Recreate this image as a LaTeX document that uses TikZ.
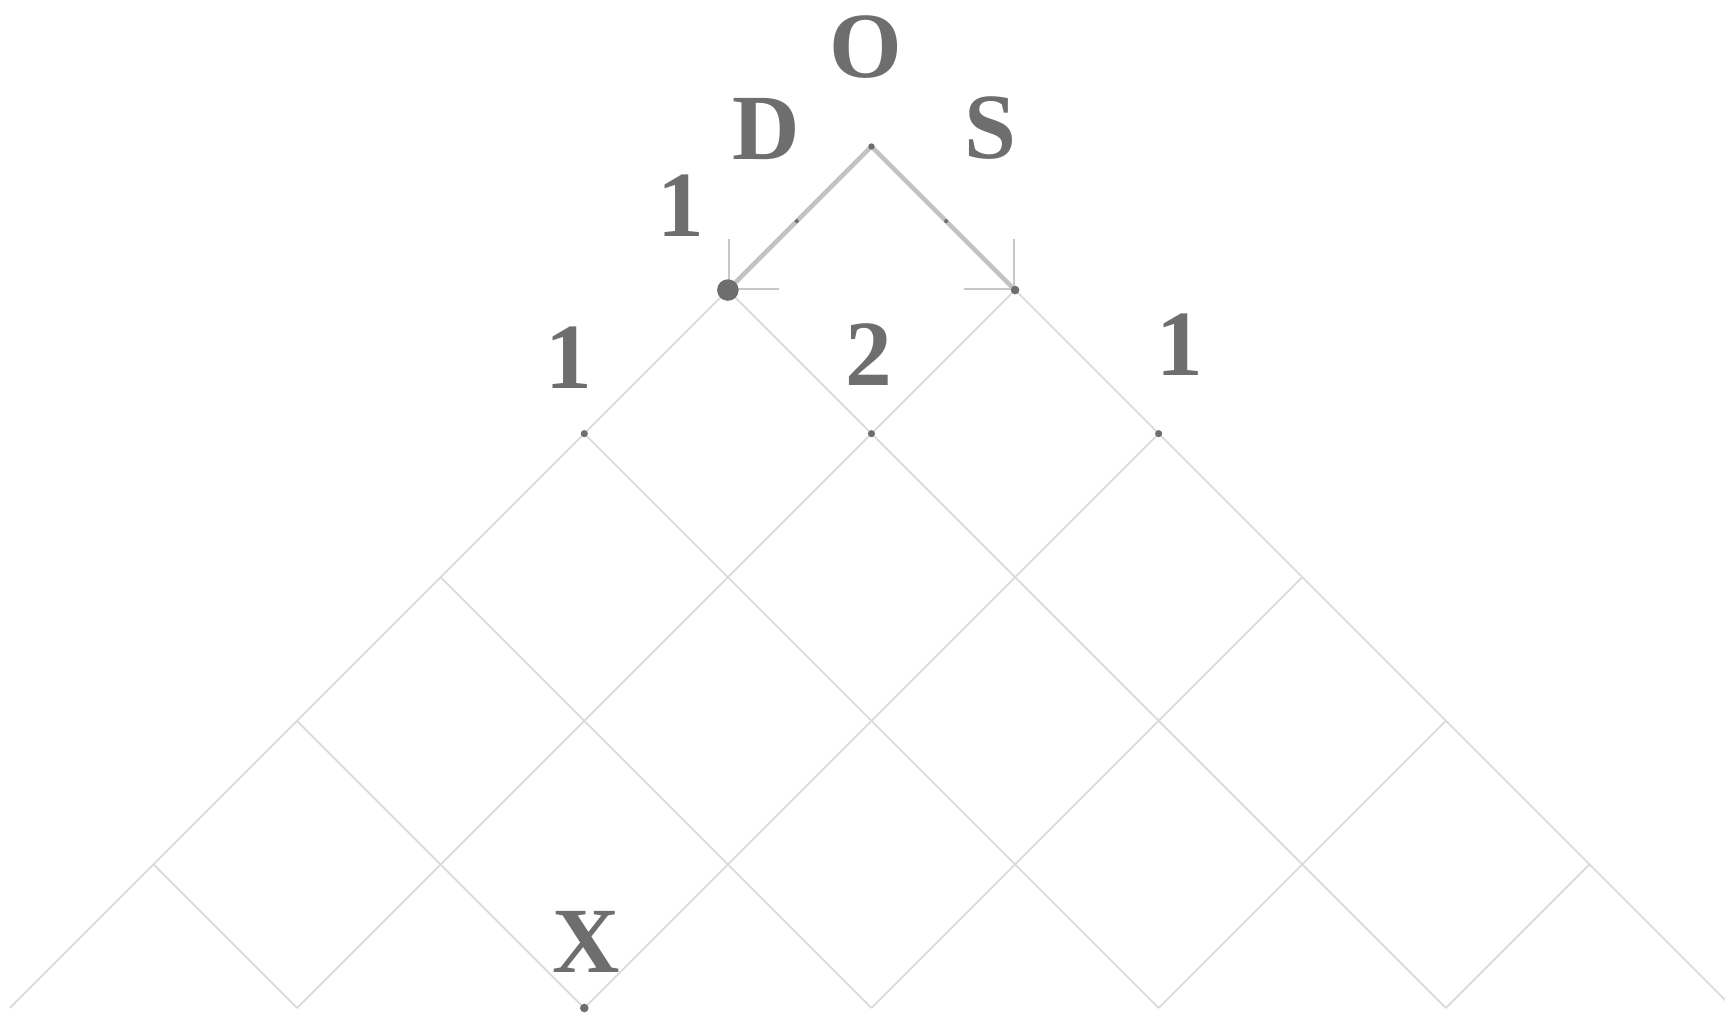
\documentclass[tikz,border=0pt]{standalone}
\usepackage{fontspec}
\setmainfont{Liberation Serif}
\usetikzlibrary{arrows.meta}
\definecolor{labgray}{HTML}{6E6E6E}
\definecolor{gridgray}{HTML}{DADADA}
\definecolor{edgegray}{HTML}{C2C2C2}
\definecolor{barbgray}{HTML}{C8C8C8}

\begin{document}
\begin{tikzpicture}[
  every node/.style={text=labgray, font=\fontsize{18.5}{20}\selectfont\bfseries},
  gridline/.style={draw=gridgray, line width=0.35pt},
  pathline/.style={draw=edgegray, line width=0.9pt,
    -{Straight Barb[angle=90:3.5mm, line width=0.35pt, color=barbgray]}},
]

\def\hs{1}
\def\vs{1}
\def\rad{0.025}

% ---------- ramka ----------
\useasboundingbox (-6.069,-6.062) rectangle (5.944,1.020);
\clip (-6.069,-6.062) rectangle (5.944,1.020);

% ---------- wierzcholki siatki ----------
\foreach \k in {0,...,6} {
  \foreach \i in {0,...,\k} {
    \coordinate (P\k-\i) at ({(2*\i-\k)*\hs}, {-\k*\vs});
  }
}

% ---------- siatka ----------
\foreach \k in {1,...,5} {
  \foreach \i in {0,...,\k} {
    \draw[gridline] (P\k-\i) -- (P\the\numexpr\k+1\relax-\i);
    \draw[gridline] (P\k-\i) -- (P\the\numexpr\k+1\relax-\the\numexpr\i+1\relax);
  }
}

% ---------- pierwszy krok ----------
\draw[pathline] (P0-0) -- coordinate[pos=0.52] (midD) (P1-0);
\draw[pathline] (P0-0) -- coordinate[pos=0.52] (midS) (P1-1);

% ---------- punkty ----------
\fill[labgray] (P0-0) circle (0.022);
\fill[labgray] (P1-0) circle (0.075);
\fill[labgray] (P1-1) circle (0.03);
\foreach \i in {0,1,2} {
  \fill[labgray] (P2-\i) circle (\rad);
}
\fill[labgray] (P6-2) circle (0.03);
\fill[labgray] (midD) circle (0.014);
\fill[labgray] (midS) circle (0.014);

% ---------- etykiety ----------
\node (labO) at (-0.04, 0.69) {O};
\node (labD) at (-0.73, 0.12) {D};
\node (labS) at (0.83, 0.13) {S};
\node (labD1) at (-1.33, -0.41) {1};
\node (labL) at (-2.11, -1.47) {1};
\node (labM) at (-0.02, -1.45) {2};
\node (labR) at (2.15, -1.38) {1};
\node (labX) at (-1.99, -5.54) {X};

\end{tikzpicture}
\end{document}
